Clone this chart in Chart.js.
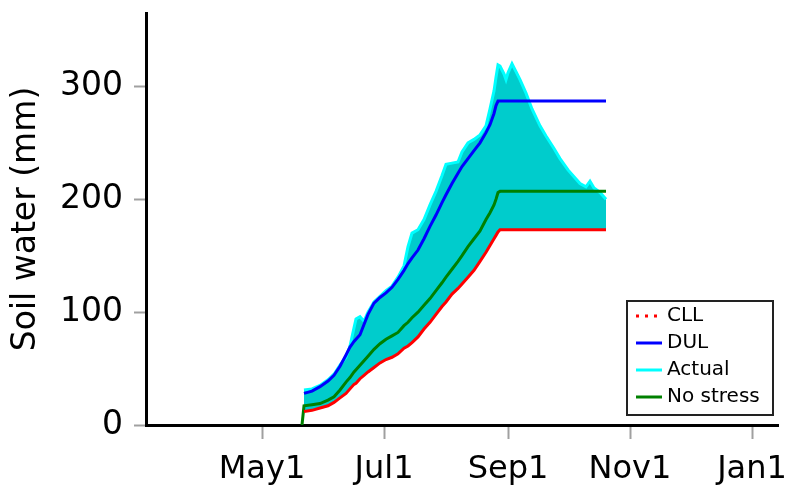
<!DOCTYPE html>
<html>
<head>
<meta charset="utf-8">
<script src="https://cdn.jsdelivr.net/npm/chart.js@4.4.1/dist/chart.umd.min.js"></script>
<style>
  html, body { margin: 0; padding: 0; background: #fff; }
  canvas { display: block; }
</style>
</head>
<body>
<canvas id="soil" width="791" height="485"></canvas>
<script>
// Day of year of each sample (121 = 1 May)
const days = [141, 142, 146, 150, 154, 157, 160, 163, 165, 167, 168, 170, 172, 174, 177, 180,
  183, 186, 189, 192, 194, 196, 199, 202, 205, 208, 211, 213, 216, 219, 221, 224, 227, 230,
  233, 235, 237, 238, 239, 240, 242, 243, 244, 246, 248, 250, 253, 256, 260, 263, 267, 270,
  274, 277, 280, 283, 285, 287, 290, 293];

// Crop lower limit (mm)
const cll = [null, 12, 13, 15, 17, 20, 24, 28, 32, 36, 37, 41, 44, 47, 51, 55,
  58, 60, 63, 68, 70, 73, 78, 85, 91, 98, 105, 109, 116, 121, 125, 131, 137, 145,
  153, 159, 165, 168, 171, 173, 173, 173, 173, 173, 173, 173, 173, 173, 173, 173, 173, 173,
  173, 173, 173, 173, 173, 173, 173, 173];

// Drained upper limit (mm)
const dul = [null, 28, 30, 34, 39, 44, 52, 62, 69, 74, 76, 80, 89, 98, 108, 113,
  117, 122, 129, 137, 143, 148, 155, 165, 176, 186, 197, 204, 214, 223, 229, 236, 243, 250,
  259, 266, 276, 283, 287, 287, 287, 287, 287, 287, 287, 287, 287, 287, 287, 287, 287, 287,
  287, 287, 287, 287, 287, 287, 287, 287];

// Actual soil water (mm)
const actual = [null, 31, 32, 35, 40, 45, 53, 60, 70, 86, 94, 96, 92, 100, 109, 114,
  119, 123, 131, 141, 158, 170, 173, 182, 195, 207, 221, 231, 232, 233, 242, 250, 253, 257,
  265, 280, 296, 308, 319, 318, 311, 306, 312, 320, 313, 306, 294, 280, 265, 256, 245, 236,
  226, 220, 214, 211, 216, 210, 206, 200];

// Soil water without stress (mm)
const noStress = [0, 17, 18, 19, 22, 25, 31, 38, 42, 47, 49, 53, 57, 61, 67, 72,
  76, 79, 82, 88, 91, 95, 100, 106, 112, 119, 126, 131, 138, 145, 150, 158, 165, 172,
  182, 188, 195, 200, 206, 207, 207, 207, 207, 207, 207, 207, 207, 207, 207, 207, 207, 207,
  207, 207, 207, 207, 207, 207, 207, 207];

const xTickDays = [121, 182, 244, 305, 366];
const xTickLabels = ['May1', 'Jul1', 'Sep1', 'Nov1', 'Jan1'];
const yTicks = [0, 100, 200, 300];
const seriesNames = ['CLL', 'DUL', 'Actual', 'No stress'];

const FONT = 'DejaVu Sans';
const toPoints = vals => days.map((d, i) => ({ x: d, y: vals[i] }));

// Boxed legend in the lower right of the plot
const boxedLegend = {
  id: 'boxedLegend',
  afterDraw(chart, args, opts) {
    const ctx = chart.ctx;
    ctx.save();
    ctx.strokeStyle = '#222';
    ctx.lineWidth = 2;
    ctx.strokeRect(opts.left, opts.top, opts.width, opts.height);
    ctx.font = opts.fontSize + 'px "' + FONT + '"';
    ctx.textBaseline = 'middle';
    ctx.textAlign = 'left';
    chart.data.datasets.forEach((ds, i) => {
      const y = opts.top + opts.firstRow + i * opts.rowGap;
      ctx.beginPath();
      ctx.setLineDash(opts.dashes[i]);
      ctx.strokeStyle = ds.borderColor;
      ctx.lineWidth = 3;
      ctx.moveTo(opts.left + opts.lineStart, y);
      ctx.lineTo(opts.left + opts.lineStart + opts.lineLen, y);
      ctx.stroke();
      ctx.setLineDash([]);
      ctx.fillStyle = '#000';
      ctx.fillText(ds.label, opts.left + opts.textStart, y);
    });
    ctx.restore();
  }
};

const lineStyle = { borderWidth: 3, pointRadius: 0, tension: 0, fill: false };

new Chart(document.getElementById('soil'), {
  type: 'line',
  data: {
    datasets: [
      { ...lineStyle, label: seriesNames[0], data: toPoints(cll), borderColor: '#ff0000', order: 1 },
      { ...lineStyle, label: seriesNames[1], data: toPoints(dul), borderColor: '#0000ff', order: 1 },
      { ...lineStyle, label: seriesNames[2], data: toPoints(actual), borderColor: '#00ffff',
        backgroundColor: '#00cccc', fill: 0, order: 5 },
      { ...lineStyle, label: seriesNames[3], data: toPoints(noStress), borderColor: '#008000', order: 1 }
    ]
  },
  options: {
    responsive: false,
    devicePixelRatio: 1,
    animation: false,
    layout: { padding: { top: 13, right: 13, left: 0, bottom: 0 } },
    plugins: {
      legend: { display: false },
      tooltip: { enabled: false },
      boxedLegend: {
        left: 627, top: 301, width: 146, height: 114,
        firstRow: 15, rowGap: 27, lineStart: 9, lineLen: 26, textStart: 40,
        fontSize: 20, dashes: [[3, 6], [], [], []]
      }
    },
    scales: {
      x: {
        type: 'linear',
        min: 63,
        max: 379,
        afterBuildTicks: s => { s.ticks = xTickDays.map(v => ({ value: v })); },
        ticks: {
          callback: (v, i) => xTickLabels[i],
          font: { family: FONT, size: 32 },
          color: '#000',
          padding: 11,
          maxRotation: 0,
          autoSkip: false
        },
        grid: { drawOnChartArea: false, drawTicks: true, tickLength: 14, tickColor: '#a0a0a0', tickWidth: 2 },
        border: { display: true, color: '#000', width: 3 },
        afterFit: s => { s.height = 60; s.paddingLeft = 0; s.paddingRight = 0; }
      },
      y: {
        min: 0,
        max: 365,
        afterBuildTicks: s => { s.ticks = yTicks.map(v => ({ value: v })); },
        ticks: { font: { family: FONT, size: 33 }, color: '#000', padding: 11 },
        grid: { drawOnChartArea: false, drawTicks: true, tickLength: 12, tickColor: '#a0a0a0', tickWidth: 2 },
        border: { display: true, color: '#000', width: 3 },
        title: {
          display: true,
          text: 'Soil water (mm)',
          font: { family: FONT, size: 33 },
          color: '#000',
          padding: { top: 7, bottom: 0 }
        },
        afterFit: s => { s.width = 146; s.paddingTop = 0; s.paddingBottom = 0; }
      }
    }
  },
  plugins: [boxedLegend]
});
</script>
</body>
</html>
